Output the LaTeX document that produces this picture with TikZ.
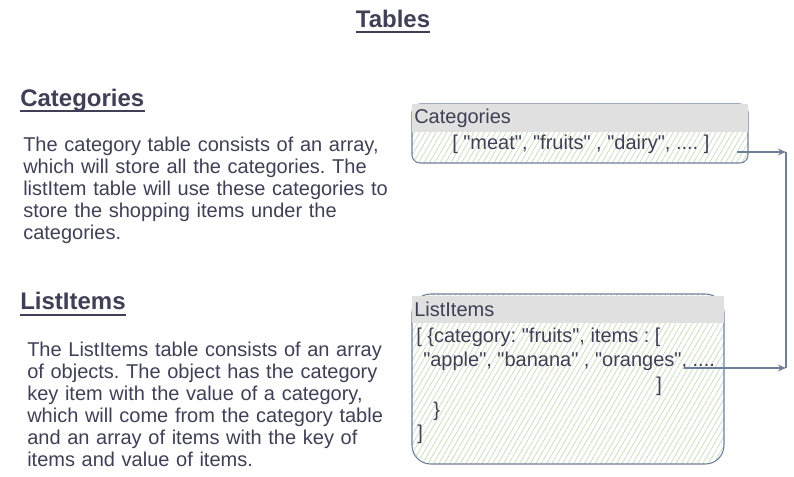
\documentclass[tikz,border=0pt]{standalone}
\usepackage{fontspec}
\setmainfont{Liberation Sans}
\font\boxfont="Liberation Sans" at 15pt
\usetikzlibrary{patterns.meta,arrows.meta}
\definecolor{txt}{HTML}{3F3F55}
\definecolor{edgec}{HTML}{6E7E99}
\definecolor{hdr}{HTML}{E0E0E0}
\definecolor{hatchc}{HTML}{BFD8B2}
\begin{document}
\frenchspacing
\begin{tikzpicture}[x=0.75pt,y=-0.75pt,
  every node/.style={text=txt,inner sep=0pt},
  body/.style={font=\fontsize{15}{16.5}\selectfont, anchor=base west, align=left, text width=300pt},
  head/.style={font=\fontsize{18}{20}\selectfont\bfseries, anchor=base west},
  boxtext/.style={font=\boxfont, anchor=base west},
  uline/.style={draw=txt, line width=1.5pt},
  boxline/.style={draw=edgec, line width=0.8pt, pattern={Lines[angle=60,distance=3.5pt,line width=0.45pt]}, pattern color=hatchc},
  hdrfill/.style={fill=hdr},
  conn/.style={draw=edgec, line width=0.8pt},
  arr/.style={conn, -{Stealth[length=6pt,width=5pt]}}
]
\useasboundingbox (0,0) rectangle (794,477);

% title
\node[head, anchor=base] (title) at (393,28) {Tables};
\draw[uline] ([yshift=-3pt]title.base west) -- ([yshift=-3pt]title.base east);

% left column
\node[head] (h1) at (20,107) {Categories};
\draw[uline] ([yshift=-3pt]h1.base west) -- ([yshift=-3pt]h1.base east);
\node[body] (p1) at (23,152) {The category table consists of an array,\\
which will store all the categories. The\\
listItem table will use these categories to\\
store the shopping items under the\\
categories.};

\node[head] (h2) at (20,310) {ListItems};
\draw[uline] ([yshift=-3.5pt]h2.base west) -- ([yshift=-3.5pt]h2.base east);
\node[body] (p2) at (27,357) {The ListItems table consists of an array\\
of objects. The object has the category\\
key item with the value of a category,\\
which will come from the category table\\
and an array of items with the key of\\
items and value of items.};

% Categories box
\draw[boxline, rounded corners=6pt] (412,104) rectangle (748,163);
\fill[hdrfill] (412,104) rectangle (748,132);
\node[boxtext] (ct) at (414,124) {Categories};
\node[boxtext] (cc) at (452,150) {[ "meat", "fruits" , "dairy", .... ]};

% ListItems box
\draw[boxline, rounded corners=14pt] (412,294) rectangle (724,464);
\fill[hdrfill] (412,296) rectangle (724,323);
\node[boxtext] (lt) at (414,317) {ListItems};
\node[boxtext] (l1) at (416,343) {[ \{category: "fruits", items : [};
\node[boxtext] (l2) at (423,367) {"apple", "banana" , "oranges", ....};
\node[boxtext] (l3) at (656,392) {]};
\node[boxtext] (l4) at (433,417) {\}};
\node[boxtext] (l5) at (417,440) {]};

% connectors
\coordinate (a1) at (737,152);
\coordinate (t1) at (786,152);
\coordinate (t2) at (786,368);
\coordinate (a2) at (684,368);
\draw[arr] (a1) -- (t1);
\draw[conn] (t1) -- (t2);
\draw[arr] (a2) -- (t2);
\end{tikzpicture}
\end{document}
